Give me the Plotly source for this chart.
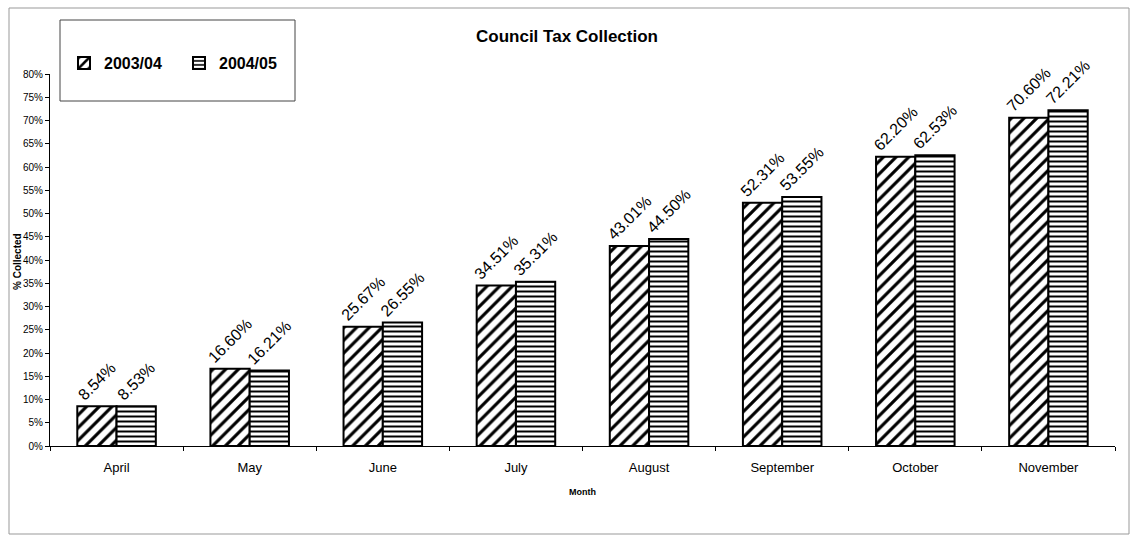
import plotly.graph_objects as go

months = ["April", "May", "June", "July", "August", "September", "October", "November"]
s2003 = [8.54, 16.60, 25.67, 34.51, 43.01, 52.31, 62.20, 70.60]
s2004 = [8.53, 16.21, 26.55, 35.31, 44.50, 53.55, 62.53, 72.21]
series_names = ["2003/04", "2004/05"]
y_ticks = [i * 5 for i in range(17)]

FONT = "Liberation Sans"
L, R, T, B = 50, 15, 74, 90
W, H = 1130, 536
pw, ph = W - L - R, H - T - B

def px_x(x):
    return (x - L) / pw

def px_y(y):
    return (H - B - y) / ph

fig = go.Figure()
for name, vals, shape in [(series_names[0], s2003, "/"), (series_names[1], s2004, "-")]:
    fig.add_trace(go.Bar(
        x=months, y=[v / 100 for v in vals], name=f"<b>{name}</b>",
        text=[f"{v:.2f}%" for v in vals], textposition="outside", textangle=-45,
        textfont=dict(family=FONT, size=16, color="black"),
        cliponaxis=False,
        marker=dict(color="white", line=dict(color="black", width=2),
                    pattern=dict(shape=shape, fgcolor="black", bgcolor="white", fgopacity=1,
                                 size=9 if shape == "/" else 5,
                                 solidity=0.35 if shape == "/" else 0.4)),
    ))

fig.update_layout(
    width=W, height=H, barmode="group", bargap=0.41, bargroupgap=0,
    margin=dict(l=L, r=R, t=T, b=B, autoexpand=False),
    paper_bgcolor="white", plot_bgcolor="white",
    font=dict(family=FONT, color="black"),
    uniformtext=dict(minsize=16, mode="show"),
    title=dict(text="<b>Council Tax Collection</b>", x=567 / W, xanchor="center",
               y=1 - 36 / H, yanchor="middle", font=dict(size=17, family=FONT)),
    showlegend=True,
    legend=dict(orientation="h", x=px_x(64), y=px_y(63), xanchor="left", yanchor="middle",
                bgcolor="rgba(0,0,0,0)", font=dict(size=16, family=FONT),
                itemwidth=30, entrywidth=70, traceorder="normal"),
    xaxis=dict(showline=True, linecolor="black", linewidth=1, ticks="outside", ticklen=4,
               tickson="boundaries", tickcolor="black", tickfont=dict(size=13, color="black"),
               ticklabelstandoff=9, automargin=False),
    yaxis=dict(range=[0, 0.8], tickvals=[t / 100 for t in y_ticks],
               ticktext=[f"{t}%" for t in y_ticks], showgrid=False, zeroline=False,
               showline=True, linecolor="black", linewidth=1, ticks="outside", ticklen=4,
               tickcolor="black", tickfont=dict(size=10, color="black"), automargin=False),
)

fig.add_annotation(text="<b>% Collected</b>", xref="paper", yref="paper",
                   x=px_x(17), y=px_y(262), xanchor="center", yanchor="middle",
                   textangle=-90, showarrow=False,
                   font=dict(size=10, family=FONT, color="black"))
fig.add_annotation(text="<b>Month</b>", xref="paper", yref="paper",
                   x=px_x(582), y=px_y(492), xanchor="center", yanchor="middle",
                   showarrow=False, font=dict(size=9, family=FONT, color="black"))

# legend box
fig.add_shape(type="rect", xref="paper", yref="paper",
              x0=px_x(60), x1=px_x(295), y0=px_y(101), y1=px_y(20),
              line=dict(color="#444", width=1), fillcolor="rgba(0,0,0,0)")
# chart area border
fig.add_shape(type="rect", xref="paper", yref="paper",
              x0=px_x(9), x1=px_x(1129), y0=px_y(534), y1=px_y(8),
              line=dict(color="#999", width=1), fillcolor="rgba(0,0,0,0)")

fig.write_html("out.html", config={"displayModeBar": False},
               post_script="document.body.style.margin='0';")
